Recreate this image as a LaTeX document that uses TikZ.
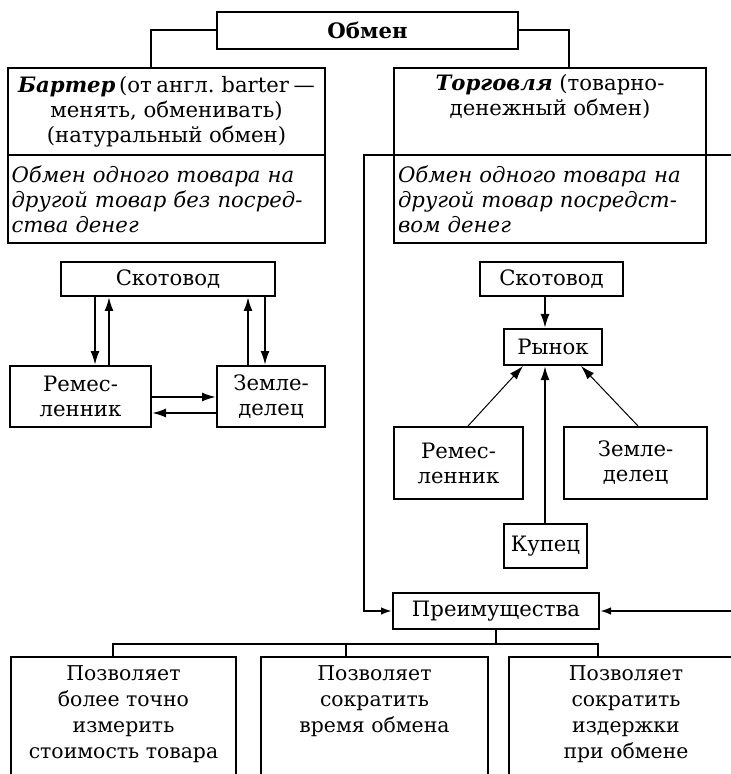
\documentclass[tikz,border=0pt]{standalone}
\usepackage{fontspec}
\setmainfont{DejaVu Serif}
\usetikzlibrary{arrows.meta}
\begin{document}
\begin{tikzpicture}[x=0.5pt,y=-0.5pt,
  bx/.style={draw, line width=1pt, inner sep=0pt, align=center, font=\fontsize{10.6}{12.5}\selectfont},
  arr/.style={line width=1pt, -{Latex[length=7pt,width=4.5pt]}},
  thinarr/.style={line width=0.5pt, -{Latex[length=7pt,width=4.5pt]}},
  smallarr/.style={line width=1pt, -{Latex[length=5.5pt,width=3.8pt]}},
  ln/.style={line width=1pt},
  botbox/.style={draw, line width=1pt, inner sep=0pt, anchor=north west}]
\clip (0,0) rectangle (731,774);
% top
\node[bx, minimum width=150.5pt, minimum height=18.5pt] (obmen) at (367.5,30.5) {\textbf{Обмен}};
\node[bx, minimum width=158.5pt, minimum height=43.5pt] (barterTop) at (166.5,111.5)
  {{\spaceskip=0.22em plus 0.05em\textbf{\textit{Бартер}}\,(от англ. barter —}\\менять, обменивать)\\(натуральный обмен)};
\node[bx, minimum width=158.5pt, minimum height=44pt, text width=155pt, align=left] (barterBot) at (166.5,199)
  {\itshape Обмен одного товара на\\другой товар без посред-\\ства денег};
\node[bx, minimum width=156pt, minimum height=43.5pt] (torgTop) at (550,111.5)
  {\textbf{\textit{Торговля}} (товарно-\\денежный обмен)\\\strut};
\node[bx, minimum width=156pt, minimum height=44pt, text width=152pt, align=left] (torgBot) at (550,199)
  {\itshape Обмен одного товара на\\другой товар посредст-\\вом денег};
\draw[ln] (obmen.west) -| (barterTop.north -| 151,0);
\draw[ln] (obmen.east) -| (torgTop.north -| 569,0);
% left scheme
\node[bx, minimum width=107pt, minimum height=17pt] (skotL) at (168,279) {Скотовод};
\node[bx, minimum width=70.5pt, minimum height=30.5pt] (remL) at (80.5,396.5) {Ремес-\\ленник};
\node[bx, minimum width=54pt, minimum height=30.5pt] (zemL) at (271,396.5) {Земле-\\делец};
\draw[arr] (skotL.south -| 95,0) -- (remL.north -| 95,0);
\draw[arr] (remL.north -| 109,0) -- (skotL.south -| 109,0);
\draw[arr] (zemL.north -| 248,0) -- (skotL.south -| 248,0);
\draw[arr] (skotL.south -| 265,0) -- (zemL.north -| 265,0);
\draw[arr] (remL.east |- 0,397) -- (zemL.west |- 0,397);
\draw[arr] (zemL.west |- 0,413) -- (remL.east |- 0,413);
% right scheme
\node[bx, minimum width=71.5pt, minimum height=17pt] (skotR) at (551.5,279) {Скотовод};
\node[bx, minimum width=49pt, minimum height=18pt] (rynok) at (553,347) {Рынок};
\node[bx, minimum width=64.5pt, minimum height=36pt] (remR) at (458.5,463) {Ремес-\\ленник};
\node[bx, minimum width=71.5pt, minimum height=36pt] (zemR) at (635.5,463) {Земле-\\делец};
\node[bx, minimum width=41.5pt, minimum height=22pt] (kupec) at (545.5,546) {Купец};
\draw[arr] (skotR.south -| 545,0) -- (rynok.north -| 545,0);
\draw[thinarr] (remR.north -| 468,0) -- (rynok.south -| 523,0);
\draw[thinarr] (zemR.north -| 638,0) -- (rynok.south -| 581,0);
\draw[arr] (kupec.north -| 545,0) -- (rynok.south -| 545,0);
% advantages
\node[bx, minimum width=103pt, minimum height=18pt] (preim) at (496,611) {Преимущества};
\coordinate (rtop) at (745,155);
\coordinate (lcorner) at (364,155);
\coordinate (rbot) at (745,611);
\draw[smallarr] (rtop) -- (lcorner) |- (preim.west);
\draw[smallarr] (rbot) -- (preim.east);
% bottom boxes
\node[botbox] (b1) at (10,656)
  {\parbox[c][70pt][t]{112.5pt}{\centering\fontsize{10.2}{13}\selectfont\vspace*{4.5pt}Позволяет\\более точно\\измерить\\стоимость товара}};
\node[botbox] (b2) at (260,656)
  {\parbox[c][70pt][t]{113.5pt}{\centering\fontsize{10.2}{13}\selectfont\vspace*{4.5pt}Позволяет\\сократить\\время обмена}};
\node[botbox] (b3) at (508,656)
  {\parbox[c][70pt][t]{117pt}{\centering\fontsize{10.2}{13}\selectfont\vspace*{4.5pt}Позволяет\\сократить\\издержки\\при обмене}};
\draw[ln] (preim.south) -- (preim.south |- 0,644);
\draw[ln] (b1.north -| 113,0) -- (113,644) -| (b3.north -| 598,0);
\draw[ln] (b2.north -| 346,0) -- (346,644);
\end{tikzpicture}
\end{document}
